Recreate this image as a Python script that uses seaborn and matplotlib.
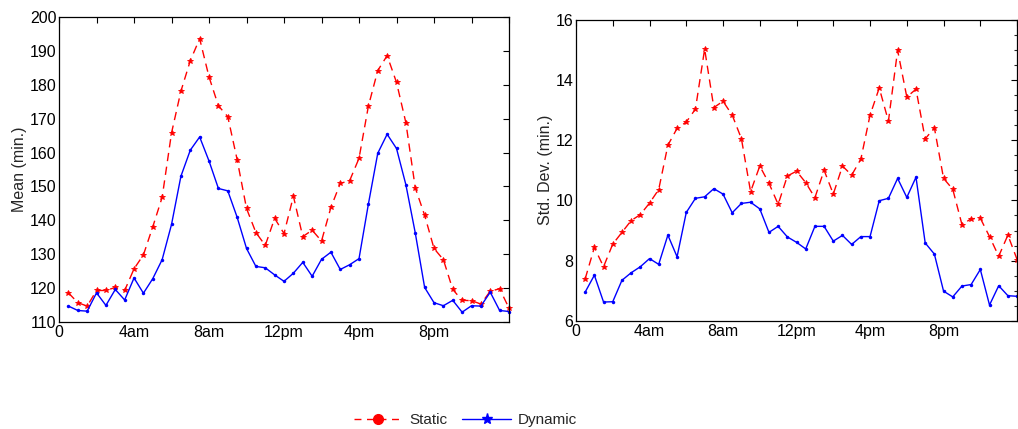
import numpy as np
import pandas as pd
import matplotlib
matplotlib.use("Agg")
import matplotlib.pyplot as plt
from matplotlib.lines import Line2D
from matplotlib.ticker import MultipleLocator
import seaborn as sns

hours = [0.5 * i for i in range(1, 49)]

mean_static = [118.6, 115.7, 114.7, 119.3, 119.3, 120.2, 119.3, 125.7, 129.8, 138.1,
               146.8, 165.8, 178.1, 187.1, 193.6, 182.3, 173.8, 170.6, 157.9, 143.5,
               136.4, 132.6, 140.6, 136.1, 147.1, 135.2, 137.1, 133.9, 143.8, 150.9,
               151.7, 158.3, 173.7, 184.2, 188.6, 180.7, 168.8, 149.6, 141.5, 131.7,
               128.4, 119.6, 116.4, 116.3, 115.3, 119.1, 119.8, 114.1]
mean_dynamic = [114.7, 113.4, 113.2, 118.6, 114.9, 119.6, 116.5, 123.0, 118.5, 122.8,
                128.4, 138.8, 153.0, 160.7, 164.6, 157.5, 149.4, 148.7, 140.9, 131.7,
                126.4, 126.0, 123.9, 122.0, 124.4, 127.6, 123.5, 128.5, 130.6, 125.5,
                126.9, 128.7, 144.8, 159.8, 165.4, 161.2, 150.5, 136.3, 120.2, 115.7,
                114.8, 116.4, 112.9, 114.8, 114.7, 118.8, 113.4, 113.1]
std_static = [7.40, 8.44, 7.80, 8.55, 8.94, 9.33, 9.53, 9.91, 10.36, 11.83,
              12.39, 12.60, 13.03, 15.02, 13.08, 13.29, 12.83, 12.05, 10.29, 11.14,
              10.57, 9.87, 10.81, 10.97, 10.59, 10.09, 11.00, 10.21, 11.14, 10.84,
              11.37, 12.83, 13.73, 12.63, 14.98, 13.43, 13.69, 12.04, 12.41, 10.73,
              10.37, 9.20, 9.39, 9.41, 8.80, 8.15, 8.85, 8.04]
std_dynamic = [6.96, 7.52, 6.63, 6.64, 7.35, 7.60, 7.80, 8.07, 7.88, 8.85,
               8.13, 9.60, 10.07, 10.12, 10.39, 10.21, 9.59, 9.90, 9.94, 9.72,
               8.94, 9.14, 8.79, 8.61, 8.39, 9.14, 9.14, 8.65, 8.84, 8.54,
               8.80, 8.80, 9.99, 10.07, 10.73, 10.10, 10.77, 8.59, 8.22, 6.99,
               6.80, 7.16, 7.21, 7.71, 6.53, 7.17, 6.84, 6.82]

xtick_pos = list(range(0, 25, 2))
xtick_labels = ["0", "", "4am", "", "8am", "", "12pm", "", "4pm", "", "8pm", "", ""]

sns.set_style("white")
plt.rcParams['font.family'] = ['Liberation Sans', 'DejaVu Sans']
plt.rcParams['font.size'] = 11

fig = plt.figure(figsize=(10.18, 4.29), dpi=100)
ax1 = fig.add_axes([0.058, 0.2494, 0.442, 0.711])
ax2 = fig.add_axes([0.5658, 0.2517, 0.4333, 0.7028])

RED = "#ff0000"
BLUE = "#0000ff"

def draw(ax, static, dynamic, ylim, ymajor, yminor, ylabel):
    sns.lineplot(x=hours, y=static, ax=ax, color=RED, linestyle=(0, (6, 4)),
                 linewidth=1.0, marker="*", markersize=4, markeredgewidth=0.6,
                 markeredgecolor=RED, clip_on=False)
    sns.lineplot(x=hours, y=dynamic, ax=ax, color=BLUE, linestyle="-",
                 linewidth=1.0, marker="o", markersize=2.5, markeredgewidth=0,
                 markerfacecolor=BLUE, clip_on=False)
    ax.set_xlim(0, 24)
    ax.set_ylim(*ylim)
    ax.set_xticks(xtick_pos)
    ax.set_xticklabels(xtick_labels)
    ax.yaxis.set_major_locator(MultipleLocator(ymajor))
    if yminor:
        ax.yaxis.set_minor_locator(MultipleLocator(yminor))
    ax.tick_params(axis="both", which="major", direction="in", length=4, width=0.8,
                   top=True, right=True, labelsize=11.5, pad=2, colors="black")
    ax.tick_params(axis="both", which="minor", direction="in", length=2.5, width=0.8,
                   top=True, right=True)
    ax.set_ylabel(ylabel, fontsize=11.5, labelpad=2)
    ax.set_xlabel("")
    for s in ax.spines.values():
        s.set_visible(True)
        s.set_color("black")
        s.set_linewidth(0.9)

draw(ax1, mean_static, mean_dynamic, (110, 200), 10, None, "Mean (min.)")
draw(ax2, std_static, std_dynamic, (6, 16), 2, 0.5, "Std. Dev. (min.)")

handles = [
    Line2D([], [], color=RED, linestyle=(0, (5, 4)), linewidth=1.0, marker="o",
           markersize=7, markerfacecolor=RED, markeredgecolor=RED),
    Line2D([], [], color=BLUE, linestyle="-", linewidth=1.0, marker="*",
           markersize=8, markerfacecolor=BLUE, markeredgecolor=BLUE),
]
fig.legend(handles, ["Static", "Dynamic"], loc="center", bbox_to_anchor=(0.457, 0.02),
           ncol=2, frameon=False, fontsize=11, handlelength=3.2, columnspacing=1.0,
           handletextpad=0.4)

fig.savefig("out.png", dpi=100)
